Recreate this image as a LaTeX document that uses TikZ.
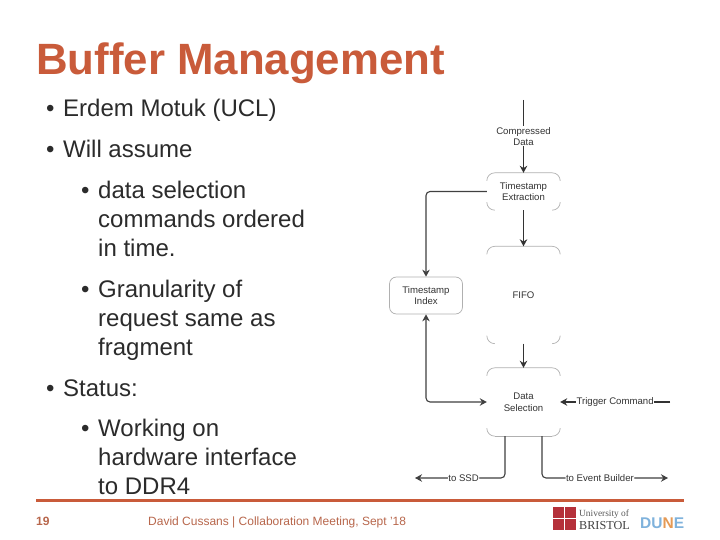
\documentclass[tikz,border=0pt]{standalone}
\usepackage{fontspec}
\setmainfont{Liberation Sans}
\newfontfamily\serifface{Liberation Serif}
\usetikzlibrary{calc,arrows.meta}
\definecolor{accent}{HTML}{C95B3A}
\definecolor{foottone}{HTML}{B8674C}
\definecolor{bodytext}{HTML}{2B2B2B}
\definecolor{edgegrey}{HTML}{B0B0B0}
\definecolor{dunea}{HTML}{7FB2DC}
\definecolor{duneb}{HTML}{E59A55}
\definecolor{crest}{HTML}{B5303A}
\tikzset{
  x=1pt,y=-1pt,
  tip/.tip={Stealth[length=7pt,width=7.5pt]},
  titletext/.style={anchor=base west,inner sep=0,font=\bfseries\fontsize{43.8}{44}\selectfont,text=accent},
  bodyline/.style={anchor=base west,inner sep=0,font=\fontsize{24}{24}\selectfont,text=bodytext},
  foottext/.style={anchor=base west,inner sep=0,font=\fontsize{12}{12}\selectfont,text=foottone},
  flowbox/.style={minimum width=73pt,inner sep=0,align=center,font=\fontsize{9.6}{11.6}\selectfont,text=black!80},
  flowlabel/.style={fill=white,inner sep=0.6pt,align=center,font=\fontsize{9.6}{11.6}\selectfont,text=black!80},
  flowarrow/.style={draw=black!80,line width=1.1pt,-tip},
  flowline/.style={draw=black!75,line width=1.1pt,rounded corners=4pt},
  edge/.style={draw=edgegrey,line width=0.7pt}
}
\newcommand{\topcurve}[1]{%
  \draw[edge] ($(#1.north west)+(0,8)$) arc[start angle=180,end angle=270,x radius=8pt,y radius=-8pt] -- ($(#1.north east)+(-8,0)$) arc[start angle=270,end angle=360,x radius=8pt,y radius=-8pt];}
\newcommand{\botcorners}[1]{%
  \draw[edge] ($(#1.south west)+(0,-8)$) arc[start angle=180,end angle=90,x radius=8pt,y radius=-8pt];
  \draw[edge] ($(#1.south east)+(0,-8)$) arc[start angle=0,end angle=90,x radius=8pt,y radius=-8pt];}
\begin{document}
\begin{tikzpicture}
\useasboundingbox (0,0) rectangle (720,540);
\fill[white] (0,0) rectangle (720,540);
% title and body
\node[titletext] (title) at (36,75) {Buffer Management};
\node[bodyline] (b1) at (46,117) {•};
\node[bodyline] (t1) at (63,117) {Erdem Motuk (UCL)};
\node[bodyline] (b2) at (46,158) {•};
\node[bodyline] (t2) at (63,158) {Will assume};
\node[bodyline] (b3) at (81,199) {•};
\node[bodyline] (t3a) at (98,199) {data selection};
\node[bodyline] (t3b) at (98,228) {commands ordered};
\node[bodyline] (t3c) at (98,256) {in time.};
\node[bodyline] (b4) at (81,297) {•};
\node[bodyline] (t4a) at (98,297) {Granularity of};
\node[bodyline] (t4b) at (98,326) {request same as};
\node[bodyline] (t4c) at (98,355) {fragment};
\node[bodyline] (b5) at (46,396) {•};
\node[bodyline] (t5) at (63,396) {Status:};
\node[bodyline] (b6) at (81,436) {•};
\node[bodyline] (t6a) at (98,436) {Working on};
\node[bodyline] (t6b) at (98,465) {hardware interface};
\node[bodyline] (t6c) at (98,494) {to DDR4};
% footer
\coordinate (fl) at (36,500); \coordinate (fr) at (684,500);
\draw[accent,line width=3pt] (fl) -- (fr);
\node[foottext,font=\bfseries\fontsize{12}{12}\selectfont] (pg) at (36,525) {19};
\node[foottext] (foot) at (148,525) {David Cussans | Collaboration Meeting, Sept '18};
% flow boxes
\node[flowbox,minimum height=37pt] (ext) at (523.5,191.5) {Timestamp\\Extraction};
\node[flowbox,minimum height=97pt] (fifo) at (523.5,295) {FIFO};
\node[flowbox,minimum height=68pt] (sel) at (523.5,402) {Data\\Selection};
\node[flowbox,minimum height=37pt,draw=edgegrey,line width=0.7pt,rounded corners=7pt] (idx) at (426,295.5) {Timestamp\\Index};
\topcurve{ext}\botcorners{ext}
\topcurve{fifo}\botcorners{fifo}
\topcurve{sel}\botcorners{sel}
\draw[edge] ($(sel.south west)+(8,0)$) -- ($(sel.south east)+(-8,0)$);
% free ends
\coordinate (cin) at (523.5,100);
\coordinate (trg) at (670,402);
\coordinate (ssd) at (415,478);
\coordinate (evb) at (668,478);
\coordinate (ds1) at (505,436);
\coordinate (ds2) at (542,436);
% connectors
\draw[flowarrow] (cin) -- (ext.north) node[flowlabel,pos=0.5] {Compressed\\Data};
\draw[flowline,-tip] (ext.west) -| (idx.north);
\draw[flowarrow] (ext.south) -- (fifo.north);
\draw[flowarrow] (fifo.south) -- (sel.north);
\draw[flowline,tip-tip] (idx.south) |- (sel.west);
\draw[flowarrow] (trg) -- (sel.east) node[flowlabel,pos=0.50] (trgl) {Trigger Command};
\draw[flowline,-tip] (ds1) |- (ssd) node[flowlabel,pos=0.73] {to SSD};
\draw[flowline,-tip] (ds2) |- (evb) node[flowlabel,pos=0.73] {to Event Builder};
% logos
\fill[crest] (553,507) rectangle (576,530);
\draw[white,line width=1pt] (553,518.5) -- (576,518.5) (564.5,507) -- (564.5,530);
\node[anchor=base west,inner sep=0,font=\serifface\fontsize{9.4}{9.4}\selectfont,text=black!65] (uni) at (579,516.5) {University of};
\node[anchor=base west,inner sep=0,font=\serifface\fontsize{12.2}{12.2}\selectfont,text=black!75] (bri) at (579,529) {BRISTOL};
\node[anchor=base west,inner sep=0,font=\bfseries\fontsize{15.5}{15.5}\selectfont,text=dunea] (dune) at (640,528) {DU\textcolor{duneb}{N}E};
\end{tikzpicture}
\end{document}
